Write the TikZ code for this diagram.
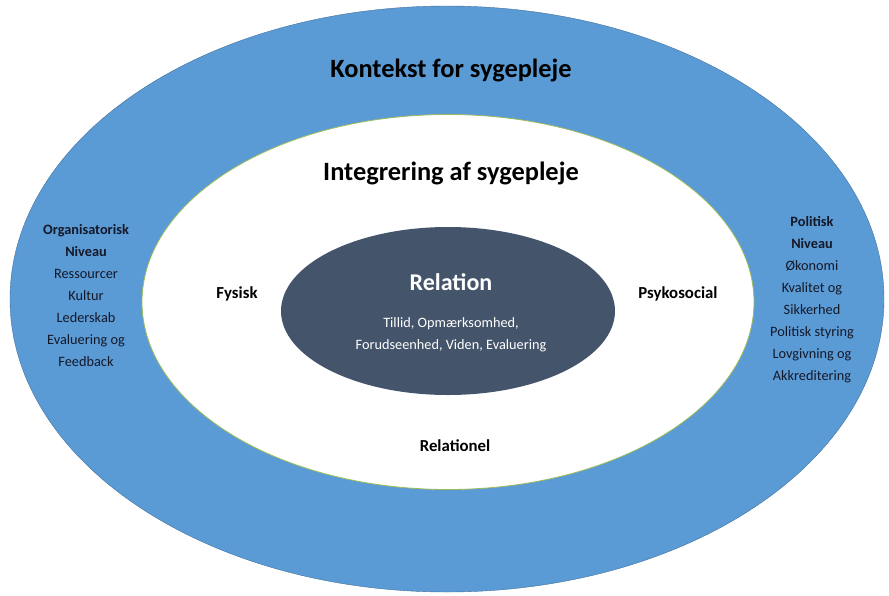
\documentclass[tikz,border=0pt]{standalone}
\usepackage{fontspec}
\setmainfont{Carlito}
\usepackage{tikz}
\usetikzlibrary{shapes.geometric, positioning}
\definecolor{contextblue}{RGB}{91, 155, 213}
\definecolor{contextedge}{RGB}{65, 113, 156}
\definecolor{integedge}{RGB}{155, 187, 89}
\definecolor{relationfill}{RGB}{68, 84, 106}
\definecolor{levelink}{RGB}{20, 24, 40}

\begin{document}
\begin{tikzpicture}[
    x=1pt, y=-1pt,
    ring/.style={ellipse, inner sep=0pt},
    title/.style={font=\fontsize{26.4}{30}\selectfont\bfseries, text=black},
    aspect/.style={font=\fontsize{16.8}{20}\selectfont\bfseries, text=black},
    level/.style={font=\fontsize{14.3}{22}\selectfont, text=levelink, align=center}
]
    \useasboundingbox (0,0) rectangle (889,595);

    % Rings
    \node[ring, draw=contextedge, fill=contextblue, minimum width=874, minimum height=586] (context) at (447,299) {};
    \node[ring, draw=integedge, line width=0.8pt, fill=white, minimum width=612, minimum height=375] (integration) at (448,302) {};
    \node[ring, fill=relationfill, minimum width=334, minimum height=168] (relation) at (448,311) {};

    % Headings
    \node[title] (contexttitle) at (451,70) {Kontekst for sygepleje};
    \node[title] (integtitle) at (451,173) {Integrering af sygepleje};
    \node[font=\fontsize{24}{28}\selectfont\bfseries, text=white] (relationtitle) at (451,282) {Relation};
    \node[font=\fontsize{14.3}{22}\selectfont, text=white, align=center] (relationtext) at (451,335)
        {Tillid, Opmærksomhed,\\Forudseenhed, Viden, Evaluering};

    % Aspects of integration
    \node[aspect] (physical) at (237,294) {Fysisk};
    \node[aspect] (psychosocial) at (678,294) {Psykosocial};
    \node[aspect] (relational) at (455,446) {Relationel};

    % Levels of context
    \node[level] (organisational) at (86,296)
        {\textbf{Organisatorisk}\\\textbf{Niveau}\\Ressourcer\\Kultur\\Lederskab\\Evaluering og\\Feedback};
    \node[level] (political) at (812,300)
        {\textbf{Politisk}\\\textbf{Niveau}\\Økonomi\\Kvalitet og\\Sikkerhed\\Politisk styring\\Lovgivning og\\Akkreditering};
\end{tikzpicture}
\end{document}
